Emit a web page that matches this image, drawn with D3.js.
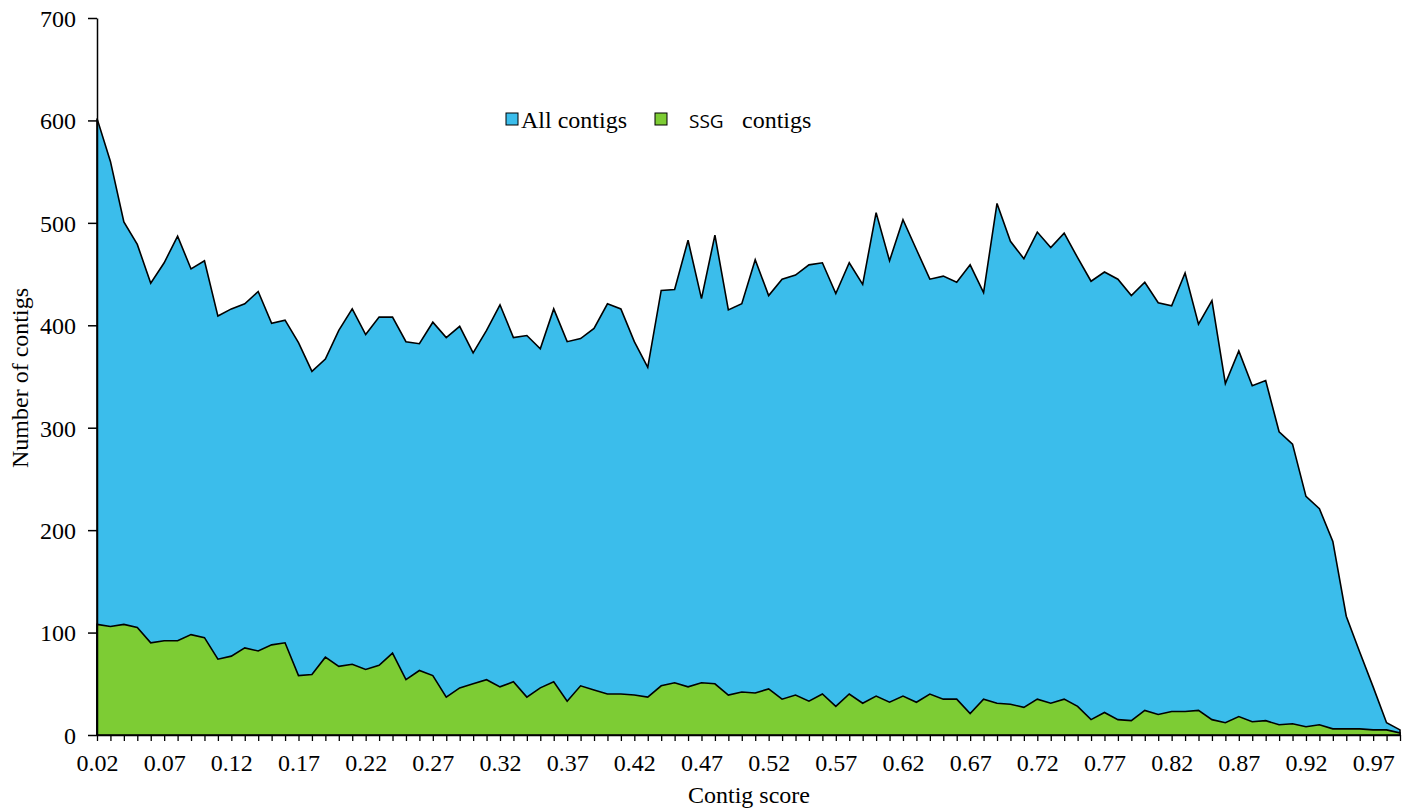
<!DOCTYPE html>
<html>
<head>
<meta charset="utf-8">
<script src="https://cdn.jsdelivr.net/npm/d3@7"></script>
<style>
  html, body { margin: 0; padding: 0; background: #fff; }
  svg { display: block; }
  .axis-title { font-family: "Liberation Serif", "Times New Roman", serif; font-size: 24px; fill: #000; }
</style>
</head>
<body>
<svg id="chart" width="1411" height="809"></svg>
<script>
// Contig score bins (0.02 to 0.99)
const scores = [
  0.02,0.03,0.04,0.05,0.06,0.07,0.08,0.09,0.10,0.11,
  0.12,0.13,0.14,0.15,0.16,0.17,0.18,0.19,0.20,0.21,
  0.22,0.23,0.24,0.25,0.26,0.27,0.28,0.29,0.30,0.31,
  0.32,0.33,0.34,0.35,0.36,0.37,0.38,0.39,0.40,0.41,
  0.42,0.43,0.44,0.45,0.46,0.47,0.48,0.49,0.50,0.51,
  0.52,0.53,0.54,0.55,0.56,0.57,0.58,0.59,0.60,0.61,
  0.62,0.63,0.64,0.65,0.66,0.67,0.68,0.69,0.70,0.71,
  0.72,0.73,0.74,0.75,0.76,0.77,0.78,0.79,0.80,0.81,
  0.82,0.83,0.84,0.85,0.86,0.87,0.88,0.89,0.90,0.91,
  0.92,0.93,0.94,0.95,0.96,0.97,0.98,0.99
];

// Number of contigs per score bin
const allContigs = [
  602,560,501,479,441,461,487,455,463,409,
  416,421,433,402,405,383,355,367,395,416,
  391,408,408,384,382,403,388,399,373,395,
  420,388,390,377,416,384,387,397,421,416,
  384,359,434,435,483,426,488,415,421,464,
  429,445,449,459,461,431,461,440,510,463,
  503,474,445,448,442,459,432,519,482,465,
  491,476,490,466,443,452,445,429,442,422,
  419,451,401,424,343,375,341,346,296,284,
  233,221,189,116,81,47,12,5
];

const ssgContigs = [
  108,106,108,105,90,92,92,98,95,74,
  77,85,82,88,90,58,59,76,67,69,
  64,68,80,54,63,58,37,46,50,54,
  47,52,37,46,52,33,48,44,40,40,
  39,37,48,51,47,51,50,39,42,41,
  45,35,39,33,40,28,40,31,38,32,
  38,32,40,35,35,21,35,31,30,27,
  35,31,35,28,15,22,15,14,24,20,
  23,23,24,15,12,18,13,14,10,11,
  8,10,6,6,6,5,5,2
];

const xTickLabels = ["0.02","0.07","0.12","0.17","0.22","0.27","0.32","0.37","0.42","0.47",
                     "0.52","0.57","0.62","0.67","0.72","0.77","0.82","0.87","0.92","0.97"];
const yTicks = [0,100,200,300,400,500,600,700];

const seriesNames = ["All contigs", "SSG"];
const seriesColors = ["#3bbdeb", "#7dcc34"];

const svg = d3.select("#chart");
const plotLeft = 97, plotRight = 1400, plotTop = 18, plotBottom = 735;

const x = d3.scalePoint().domain(scores.map(String)).range([plotLeft, plotRight]);
const y = d3.scaleLinear().domain([0, 700]).range([plotBottom, plotTop]);

const rows = scores.map((s, i) => ({ s: String(s), all: allContigs[i], ssg: ssgContigs[i] }));

// All contigs area (drawn behind)
svg.append("path")
  .datum(rows)
  .attr("fill", seriesColors[0])
  .attr("stroke", "#000")
  .attr("stroke-width", 1.6)
  .attr("d", d3.area().x(d => x(d.s)).y0(y(0)).y1(d => y(d.all)));

// SSG contigs area
svg.append("path")
  .datum(rows)
  .attr("fill", seriesColors[1])
  .attr("stroke", "#000")
  .attr("stroke-width", 1.6)
  .attr("d", d3.area().x(d => x(d.s)).y0(y(0)).y1(d => y(d.ssg)));

// Y axis
const yAxis = svg.append("g").attr("transform", `translate(${plotLeft},0)`)
  .call(d3.axisLeft(y).tickValues(yTicks).tickSize(9).tickSizeOuter(0).tickFormat(d3.format("d")));
yAxis.select(".domain").attr("stroke", "#000").attr("stroke-width", 1.5);
yAxis.selectAll(".tick line").attr("stroke", "#000").attr("stroke-width", 1.5);
yAxis.selectAll(".tick text").attr("x", -21).attr("dy", "0.35em")
  .style("font-family", "'Liberation Serif', serif").style("font-size", "24px").style("fill", "#000");

// X axis
const labelSet = new Set(xTickLabels);
const xAxis = svg.append("g").attr("transform", `translate(0,${plotBottom})`)
  .call(d3.axisBottom(x).tickSize(6).tickSizeOuter(0)
    .tickFormat(d => { const t = d3.format(".2f")(+d); return labelSet.has(t) ? t : ""; }));
xAxis.select(".domain").attr("stroke", "#000").attr("stroke-width", 1.5);
xAxis.selectAll(".tick line").attr("stroke", "#000").attr("stroke-width", 1.3);
xAxis.selectAll(".tick text").attr("y", 19).attr("dy", "0.71em")
  .style("font-family", "'Liberation Serif', serif").style("font-size", "24px").style("fill", "#000");

// Axis titles
svg.append("text").attr("class", "axis-title")
  .attr("x", 749).attr("y", 803).attr("text-anchor", "middle")
  .text("Contig score");
svg.append("text").attr("class", "axis-title")
  .attr("transform", "translate(28,378) rotate(-90)").attr("text-anchor", "middle")
  .text("Number of contigs");

// Legend
const legend = svg.append("g");
legend.append("rect").attr("x", 506).attr("y", 113).attr("width", 12).attr("height", 12)
  .attr("fill", seriesColors[0]).attr("stroke", "#000").attr("stroke-width", 1);
legend.append("text").attr("x", 521).attr("y", 128)
  .style("font-family", "'Liberation Serif', serif").style("font-size", "24px")
  .text(seriesNames[0]);
legend.append("rect").attr("x", 655).attr("y", 113).attr("width", 12).attr("height", 12)
  .attr("fill", seriesColors[1]).attr("stroke", "#000").attr("stroke-width", 1);
legend.append("text").attr("x", 689).attr("y", 128)
  .style("font-family", "'Open Sans', sans-serif").style("font-size", "19px")
  .text(seriesNames[1]);
legend.append("text").attr("x", 742).attr("y", 128)
  .style("font-family", "'Liberation Serif', serif").style("font-size", "24px")
  .text("contigs");
</script>
</body>
</html>
